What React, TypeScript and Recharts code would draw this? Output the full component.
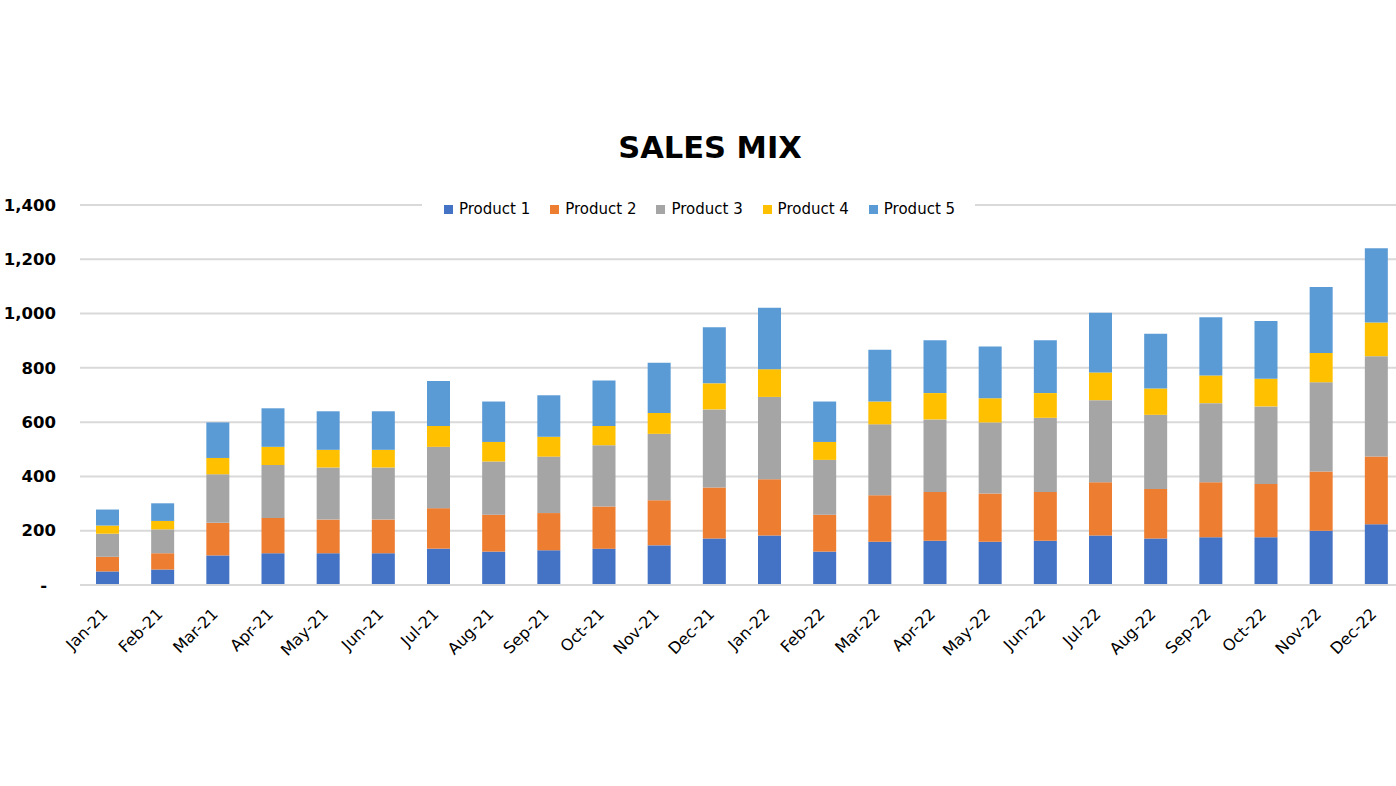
import { BarChart, Bar, XAxis, YAxis, CartesianGrid, Legend } from "recharts"

const months = [
  "Jan-21", "Feb-21", "Mar-21", "Apr-21", "May-21", "Jun-21",
  "Jul-21", "Aug-21", "Sep-21", "Oct-21", "Nov-21", "Dec-21",
  "Jan-22", "Feb-22", "Mar-22", "Apr-22", "May-22", "Jun-22",
  "Jul-22", "Aug-22", "Sep-22", "Oct-22", "Nov-22", "Dec-22",
]

const product1 = [50, 57, 109, 117, 117, 117, 134, 123, 128, 134, 146, 171, 182, 123, 159, 163, 159, 163, 182, 171, 176, 176, 200, 224]
const product2 = [54, 60, 120, 130, 124, 124, 149, 136, 137, 155, 166, 188, 208, 136, 172, 180, 178, 180, 197, 183, 203, 196, 218, 249]
const product3 = [85, 88, 179, 195, 192, 192, 226, 196, 208, 226, 245, 288, 303, 202, 261, 267, 262, 273, 302, 273, 291, 286, 329, 370]
const product4 = [30, 31, 60, 67, 65, 65, 77, 72, 73, 71, 77, 96, 102, 66, 84, 97, 89, 91, 102, 97, 102, 102, 108, 124]
const product5 = [59, 65, 131, 142, 142, 142, 166, 149, 153, 167, 185, 207, 226, 149, 191, 195, 191, 195, 220, 202, 214, 213, 243, 274]

const yTicks = [0, 200, 400, 600, 800, 1000, 1200, 1400]

const series = [
  { key: "p1", name: "Product 1", color: "#4472C4" },
  { key: "p2", name: "Product 2", color: "#ED7D31" },
  { key: "p3", name: "Product 3", color: "#A5A5A5" },
  { key: "p4", name: "Product 4", color: "#FFC000" },
  { key: "p5", name: "Product 5", color: "#5B9BD5" },
]

const data = months.map((month, i) => ({
  month,
  p1: product1[i],
  p2: product2[i],
  p3: product3[i],
  p4: product4[i],
  p5: product5[i],
}))

const FONT = "'DejaVu Sans', Verdana, sans-serif"

function YTick({ x, y, payload }: any) {
  const v = payload.value as number
  return (
    <text
      x={v === 0 ? x - 9 : x}
      y={y}
      dy="0.35em"
      textAnchor="end"
      fontFamily={FONT}
      fontWeight="bold"
      fontSize={16.5}
      fill="#000"
    >
      {v === 0 ? "-" : v.toLocaleString("en-US")}
    </text>
  )
}

function XTick({ x, y, payload }: any) {
  return (
    <g transform={`translate(${x + 1},${y + 30})`}>
      <text
        x={0}
        y={0}
        textAnchor="end"
        transform="rotate(-45)"
        fontFamily={FONT}
        fontSize={16}
        fill="#000"
      >
        {payload.value}
      </text>
    </g>
  )
}

function LegendContent() {
  return (
    <div
      style={{
        display: "flex",
        background: "#fff",
        paddingLeft: 22,
        height: 24,
        alignItems: "center",
        fontFamily: FONT,
        fontSize: 15,
        color: "#000",
      }}
    >
      {series.map((s) => (
        <div key={s.key} style={{ width: 107.5, display: "flex", alignItems: "center" }}>
          <span style={{ width: 9, height: 9, background: s.color, marginRight: 6 }} />
          <span>{s.name}</span>
        </div>
      ))}
    </div>
  )
}

export default function App() {
  return (
    <div
      style={{
        position: "absolute",
        left: 0,
        top: 0,
        width: 1396,
        height: 786,
        overflow: "hidden",
        background: "#fff",
      }}
    >
      <div
        style={{
          position: "absolute",
          left: 560,
          width: 300,
          top: 130,
          textAlign: "center",
          fontFamily: FONT,
          fontWeight: "bold",
          fontSize: 30.5,
          lineHeight: "36px",
          color: "#000",
        }}
      >
        SALES MIX
      </div>
      <BarChart
        width={1404}
        height={786}
        data={data}
        margin={{ top: 181, right: 0, bottom: 101, left: 0 }}
      >
        <CartesianGrid vertical={false} stroke="#d9d9d9" strokeWidth={2} />
        <XAxis
          dataKey="month"
          height={100}
          interval={0}
          tickSize={0}
          tickMargin={0}
          axisLine={{ stroke: "#d9d9d9", strokeWidth: 2 }}
          tickLine={false}
          tick={<XTick />}
        />
        <YAxis
          width={80}
          domain={[0, 1400]}
          ticks={yTicks}
          interval={0}
          tickSize={0}
          tickMargin={24}
          axisLine={false}
          tickLine={false}
          tick={<YTick />}
        />
        <Legend
          verticalAlign="top"
          content={<LegendContent />}
          wrapperStyle={{ top: 197, left: 422, width: 553 }}
        />
        {series.map((s) => (
          <Bar
            key={s.key}
            dataKey={s.key}
            name={s.name}
            stackId="sales"
            fill={s.color}
            barSize={23}
            isAnimationActive={false}
          />
        ))}
      </BarChart>
    </div>
  )
}
